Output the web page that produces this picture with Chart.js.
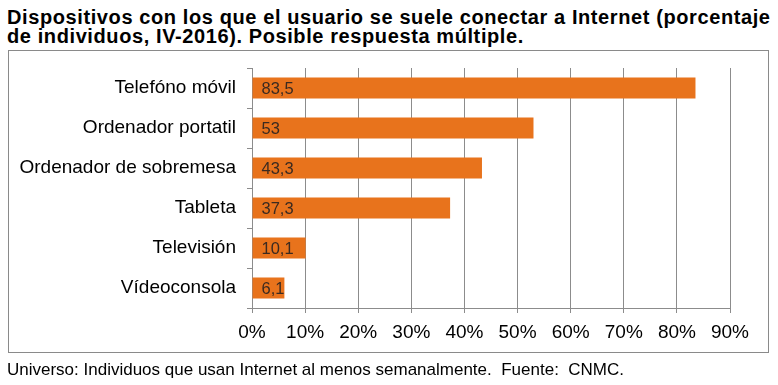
<!DOCTYPE html>
<html>
<head>
<meta charset="utf-8">
<script src="https://cdn.jsdelivr.net/npm/chart.js@4"></script>
<style>
  body { margin: 0; width: 778px; height: 385px; background: #fff; position: relative; overflow: hidden; font-family: "Liberation Sans", Arial, sans-serif; }
  #title { position: absolute; left: 7px; top: 8px; font-weight: bold; font-size: 20px; line-height: 19px; letter-spacing: 0.6px; color: #000; white-space: nowrap; }
  #box { position: absolute; left: 8px; top: 50px; width: 761px; height: 303px; border: 1px solid #8a8a8a; box-sizing: border-box; }
  #foot { position: absolute; left: 7px; top: 361px; font-size: 17px; line-height: 17px; color: #000; white-space: nowrap; }
  canvas { position: absolute; left: 0; top: 0; }
</style>
</head>
<body>
<div id="title">Dispositivos con los que el usuario se suele conectar a Internet (porcentaje<br>de individuos, IV-2016). Posible respuesta múltiple.</div>
<div id="box"></div>
<canvas id="myChart" width="778" height="385"></canvas>
<div id="foot">Universo: Individuos que usan Internet al menos semanalmente.&nbsp; Fuente:&nbsp; CNMC.</div>
<script>
let labels1 = ['Telefóno móvil', 'Ordenador portatil', 'Ordenador de sobremesa', 'Tableta', 'Televisión', 'Vídeoconsola'];
let data1 = [83.5, 53, 43.3, 37.3, 10.1, 6.1];
let tickValues = [0, 10, 20, 30, 40, 50, 60, 70, 80, 90];
let barColor = '#E8731C';

/* writes the value inside each bar, with a decimal comma */
let valueLabels = {
    id: 'valueLabels',
    afterDatasetsDraw(chart) {
        let ctx = chart.ctx;
        ctx.save();
        ctx.font = '16.5px "Liberation Sans", Arial, sans-serif';
        ctx.fillStyle = '#3b2a20';
        ctx.textAlign = 'left';
        ctx.textBaseline = 'middle';
        chart.getDatasetMeta(0).data.forEach((bar, i) => {
            ctx.fillText(String(data1[i]).replace('.', ','), bar.base + 9, bar.y + 1);
        });
        ctx.restore();
    }
};

let myChart1 = document.getElementById('myChart').getContext('2d');

let Chart1 = new Chart(myChart1, {
    type: 'bar',
    data: {
        labels: labels1,
        datasets: [{
            data: data1,
            backgroundColor: barColor,
            barPercentage: 0.525,
            categoryPercentage: 1
        }]
    },
    options: {
        indexAxis: 'y',
        responsive: false,
        animation: false,
        layout: { padding: { top: 68, right: 48, bottom: 0, left: 0 } },
        plugins: {
            legend: { display: false },
            tooltip: { enabled: false }
        },
        scales: {
            x: {
                min: 0,
                max: 90,
                afterBuildTicks: (s) => { s.ticks = tickValues.map(v => ({ value: v })); },
                afterFit: (s) => { s.height = 77; },
                grid: { color: '#8c8c8c', tickLength: 5 },
                border: { color: '#8c8c8c' },
                ticks: {
                    color: '#000',
                    padding: 8,
                    font: { size: 19, family: '"Liberation Sans", Arial, sans-serif' },
                    callback: (v) => v + '%'
                }
            },
            y: {
                afterFit: (s) => { s.width = 252; },
                grid: { drawOnChartArea: false, color: '#8c8c8c', tickLength: 5, offset: true },
                border: { color: '#8c8c8c' },
                ticks: {
                    color: '#000',
                    padding: 11,
                    font: { size: 19, family: '"Liberation Sans", Arial, sans-serif' }
                }
            }
        }
    },
    plugins: [valueLabels]
});
</script>
</body>
</html>
